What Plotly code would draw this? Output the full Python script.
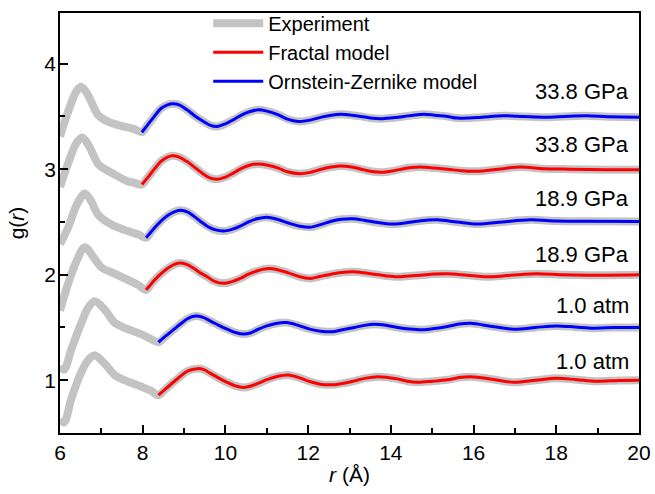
import plotly.graph_objects as go

# ---------------- data ----------------
# Experimental curves: early part (before the model fit starts); beyond that the
# experiment coincides with the model curve values listed below.
exp1_r = [6.0, 6.2, 6.4, 6.52, 6.68, 6.92, 7.16, 7.48, 7.8]
exp1_g = [3.31, 3.55, 3.74, 3.78, 3.70, 3.515, 3.45, 3.41, 3.38]
exp2_r = [6.0, 6.2, 6.4, 6.54, 6.7, 6.92, 7.08, 7.32, 7.6, 7.8]
exp2_g = [2.83, 3.06, 3.25, 3.30, 3.22, 3.05, 3.00, 2.95, 2.89, 2.87]
exp3_r = [6.0, 6.2, 6.4, 6.6, 6.75, 6.92, 7.24, 7.64, 7.9]
exp3_g = [2.29, 2.45, 2.66, 2.77, 2.70, 2.57, 2.476, 2.414, 2.38]
exp4_r = [6.0, 6.2, 6.4, 6.6, 6.84, 7.0, 7.32, 7.64, 7.9]
exp4_g = [1.66, 1.92, 2.13, 2.26, 2.15, 2.07, 2.01, 1.95, 1.90]
exp5_r = [6.0, 6.1, 6.28, 6.52, 6.68, 6.84, 7.08, 7.32, 7.64, 7.96, 8.2]
exp5_g = [1.13, 1.10, 1.30, 1.546, 1.686, 1.748, 1.67, 1.546, 1.484, 1.437, 1.39]
exp6_r = [6.0, 6.1, 6.28, 6.52, 6.68, 6.84, 7.08, 7.32, 7.64, 7.96, 8.2]
exp6_g = [0.63, 0.60, 0.833, 1.08, 1.19, 1.236, 1.158, 1.05, 0.988, 0.94, 0.90]

# Model fits
fit1_r = [7.98, 8.12, 8.28, 8.44, 8.6, 8.72, 8.88, 9.08, 9.28, 9.48, 9.64, 9.8, 10.0,
          10.2, 10.4, 10.6, 10.8, 11.0, 11.28, 11.5, 11.76, 12.05, 12.32, 12.56, 12.8,
          13.05, 13.28, 13.5, 13.76, 14.05, 14.32, 14.55, 14.8, 15.05, 15.37, 15.6,
          16.1, 16.73, 17.2, 17.77, 18.2, 18.73, 19.3, 20.0]
fit1_g = [3.35, 3.42, 3.50, 3.575, 3.61, 3.62, 3.61, 3.56, 3.50, 3.45, 3.415, 3.405, 3.43,
          3.47, 3.515, 3.546, 3.562, 3.55, 3.515, 3.475, 3.453, 3.465, 3.493, 3.512, 3.52,
          3.512, 3.50, 3.485, 3.478, 3.488, 3.50, 3.512, 3.52, 3.512, 3.50, 3.484,
          3.49, 3.506, 3.50, 3.493, 3.50, 3.506, 3.497, 3.493]
fit2_r = [7.98, 8.12, 8.28, 8.44, 8.6, 8.72, 8.88, 9.08, 9.28, 9.48, 9.64, 9.8, 10.0,
          10.2, 10.4, 10.6, 10.8, 11.0, 11.28, 11.5, 11.8, 12.05, 12.32, 12.56, 12.8,
          13.05, 13.28, 13.5, 13.77, 14.0, 14.25, 14.5, 14.72, 15.0, 15.37, 15.7, 16.09,
          16.6, 17.13, 17.7, 18.33, 19.2, 20.0]
fit2_g = [2.855, 2.92, 3.0, 3.075, 3.115, 3.127, 3.115, 3.07, 3.01, 2.95, 2.915, 2.905,
          2.925, 2.965, 3.01, 3.04, 3.05, 3.04, 3.01, 2.975, 2.957, 2.97, 3.0, 3.02, 3.03,
          3.02, 3.0, 2.98, 2.97, 2.98, 3.0, 3.015, 3.02, 3.012, 3.0, 2.985, 2.98,
          3.0, 3.02, 3.005, 3.0, 2.995, 2.995]
fit3_r = [8.08, 8.22, 8.36, 8.5, 8.64, 8.78, 8.92, 9.08, 9.24, 9.4, 9.56, 9.72, 9.96,
          10.16, 10.36, 10.56, 10.76, 11.0, 11.25, 11.52, 11.8, 12.05, 12.3, 12.56, 12.8,
          13.08, 13.35, 13.6, 13.85, 14.08, 14.35, 14.64, 14.9, 15.13, 15.6, 16.09, 16.7,
          17.37, 18.0, 18.73, 20.0]
fit3_g = [2.35, 2.415, 2.476, 2.53, 2.57, 2.598, 2.61, 2.595, 2.553, 2.505, 2.46, 2.43,
          2.414, 2.43, 2.46, 2.5, 2.53, 2.545, 2.525, 2.49, 2.46, 2.45, 2.475, 2.507,
          2.525, 2.53, 2.517, 2.50, 2.485, 2.48, 2.49, 2.507, 2.518, 2.52, 2.5, 2.48,
          2.5, 2.52, 2.51, 2.507, 2.505]
fit4_r = [8.08, 8.22, 8.36, 8.5, 8.64, 8.78, 8.92, 9.08, 9.24, 9.4, 9.56, 9.72, 9.96,
          10.16, 10.36, 10.56, 10.8, 11.04, 11.28, 11.52, 11.8, 12.05, 12.3, 12.56, 12.8,
          13.08, 13.35, 13.6, 13.9, 14.16, 14.45, 14.72, 15.05, 15.37, 15.85, 16.33,
          16.9, 17.53, 18.1, 18.73, 20.0]
fit4_g = [1.856, 1.92, 1.98, 2.03, 2.07, 2.10, 2.11, 2.095, 2.058, 2.015, 1.98, 1.94,
          1.918, 1.935, 1.965, 2.005, 2.04, 2.058, 2.045, 2.018, 1.98, 1.965, 1.985,
          2.005, 2.02, 2.027, 2.018, 2.005, 1.988, 1.98, 1.988, 1.995, 2.006, 2.01,
          1.995, 1.98, 1.995, 2.01, 2.0, 1.995, 2.0]
fit5_r = [8.38, 8.56, 8.76, 8.92, 9.08, 9.28, 9.46, 9.64, 9.84, 10.04, 10.24, 10.44,
          10.62, 10.8, 11.0, 11.22, 11.48, 11.76, 12.04, 12.3, 12.6, 12.86, 13.12, 13.36,
          13.6, 13.88, 14.16, 14.45, 14.77, 15.05, 15.37, 15.65, 15.93, 16.45, 16.97,
          17.5, 18.0, 18.45, 18.9, 19.4, 20.0]
fit5_g = [1.36, 1.42, 1.484, 1.535, 1.583, 1.608, 1.595, 1.56, 1.52, 1.484, 1.452, 1.437,
          1.45, 1.484, 1.515, 1.538, 1.546, 1.52, 1.484, 1.465, 1.46, 1.48, 1.50, 1.52,
          1.53, 1.52, 1.50, 1.485, 1.478, 1.49, 1.51, 1.532, 1.54, 1.51, 1.484,
          1.50, 1.515, 1.505, 1.493, 1.50, 1.50]
fit6_r = [8.38, 8.56, 8.76, 8.92, 9.08, 9.32, 9.48, 9.64, 9.84, 10.04, 10.24, 10.44,
          10.62, 10.8, 11.0, 11.25, 11.52, 11.78, 12.04, 12.3, 12.6, 12.86, 13.12, 13.4,
          13.68, 13.92, 14.16, 14.4, 14.64, 15.0, 15.37, 15.65, 15.93, 16.45, 16.97,
          17.5, 18.0, 18.5, 18.97, 19.5, 20.0]
fit6_g = [0.858, 0.92, 0.988, 1.04, 1.087, 1.11, 1.10, 1.065, 1.02, 0.98, 0.946, 0.932,
          0.945, 0.972, 1.005, 1.036, 1.05, 1.025, 0.988, 0.962, 0.957, 0.972, 0.994,
          1.02, 1.034, 1.027, 1.013, 0.99, 0.98, 0.99, 1.004, 1.025, 1.034, 1.01, 0.98,
          1.0, 1.02, 1.005, 0.99, 0.998, 1.0]

curve_labels = ["33.8 GPa", "33.8 GPa", "18.9 GPa", "18.9 GPa", "1.0 atm", "1.0 atm"]
label_y = [3.737, 3.237, 2.721, 2.192, 1.704, 1.173]
fit_models = ["Ornstein-Zernike model", "Fractal model", "Ornstein-Zernike model",
              "Fractal model", "Ornstein-Zernike model", "Fractal model"]

exp_r = [exp1_r, exp2_r, exp3_r, exp4_r, exp5_r, exp6_r]
exp_g = [exp1_g, exp2_g, exp3_g, exp4_g, exp5_g, exp6_g]
fit_r = [fit1_r, fit2_r, fit3_r, fit4_r, fit5_r, fit6_r]
fit_g = [fit1_g, fit2_g, fit3_g, fit4_g, fit5_g, fit6_g]

# ---------------- styles ----------------
FONT = "Liberation Sans, Arial, sans-serif"
GRAY = "#C3C3C3"
COLORS = {"Fractal model": "#FF0000", "Ornstein-Zernike model": "#0000FF"}
RANK = {"Fractal model": 2, "Ornstein-Zernike model": 3}

fig = go.Figure()

# experiment curves first (underneath)
for i in range(6):
    fig.add_trace(go.Scatter(
        x=exp_r[i] + fit_r[i], y=exp_g[i] + fit_g[i], mode="lines",
        line=dict(color=GRAY, width=8, shape="spline", smoothing=0.9),
        name="Experiment", showlegend=(i == 0), legendrank=1,
        hoverinfo="skip"))

shown = set()
for i in range(6):
    m = fit_models[i]
    fig.add_trace(go.Scatter(
        x=fit_r[i], y=fit_g[i], mode="lines",
        line=dict(color=COLORS[m], width=3, shape="spline", smoothing=0.9),
        name=m, showlegend=(m not in shown), legendrank=RANK[m]))
    shown.add(m)

for lab, yy in zip(curve_labels, label_y):
    fig.add_annotation(x=20, y=yy, xref="x", yref="y", text=lab, showarrow=False,
                       xanchor="right", yanchor="middle", xshift=-8,
                       font=dict(family=FONT, size=22, color="black"))

axis_common = dict(
    showline=True, linecolor="black", linewidth=1.5, mirror=True,
    ticks="inside", ticklen=8, tickwidth=1.5, tickcolor="black",
    showgrid=False, zeroline=False,
    tickfont=dict(family=FONT, size=21, color="black"),
)

fig.update_layout(
    width=655, height=494,
    margin=dict(l=60, r=12, t=4, b=61),
    paper_bgcolor="white", plot_bgcolor="white",
    font=dict(family=FONT, size=21, color="black"),
    showlegend=True,
    legend=dict(x=0.256, y=1.022, xanchor="left", yanchor="top",
                bgcolor="rgba(0,0,0,0)", borderwidth=0,
                font=dict(family=FONT, size=20, color="black"),
                itemwidth=50),
    xaxis=dict(range=[6, 20], dtick=2, tick0=6, ticklabeloverflow="allow",
               minor=dict(dtick=1, ticks="inside", ticklen=5, tickwidth=1.5,
                          tickcolor="black"),
               title=dict(text="<i>r</i> (Å)", standoff=4,
                          font=dict(family=FONT, size=21)),
               **axis_common),
    yaxis=dict(range=[0.5, 4.48], dtick=1, tick0=0,
               minor=dict(dtick=0.5, ticks="inside", ticklen=5, tickwidth=1.5,
                          tickcolor="black"),
               title=dict(text="g(<i>r</i>)", standoff=14,
                          font=dict(family=FONT, size=21)),
               ticklabelstandoff=-2,
               **axis_common),
)

fig.write_html("out.html", config={"displayModeBar": False},
               post_script="document.body.style.margin='0';")
